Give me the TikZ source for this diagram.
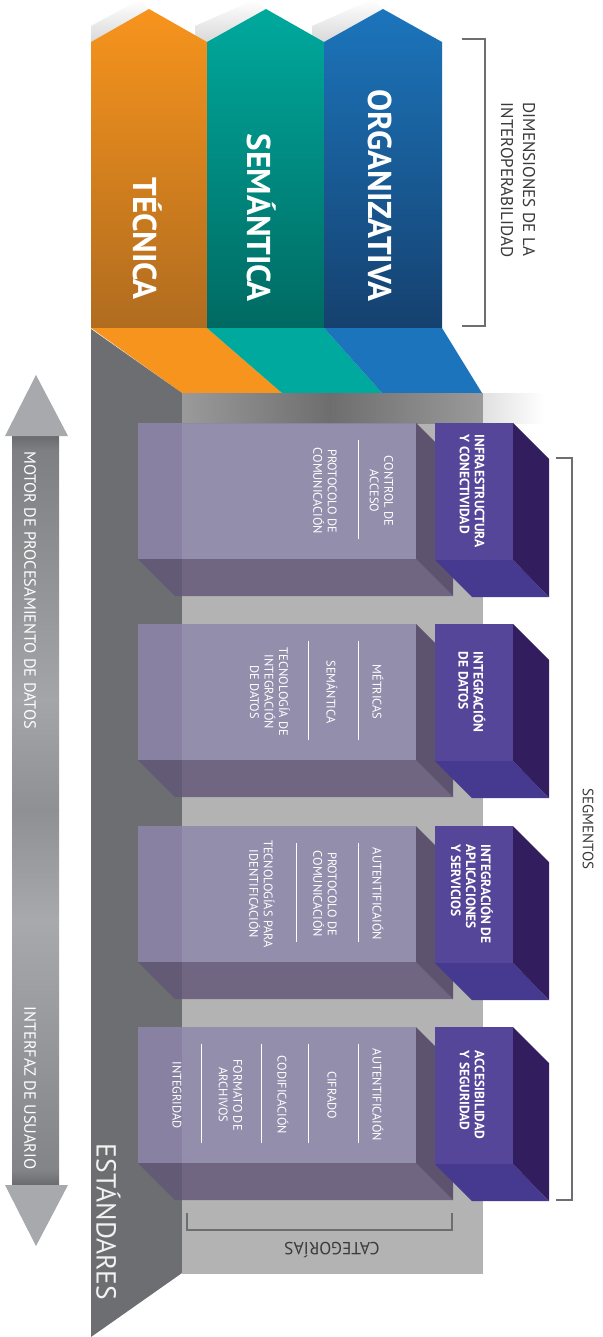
\documentclass[tikz,border=0pt]{standalone}
\usepackage{fontspec}
\setmainfont{PT Sans}
\definecolor{org}{HTML}{F7941D}
\definecolor{orgD}{HTML}{B06C1F}
\definecolor{tealA}{HTML}{00A99D}
\definecolor{tealD}{HTML}{006A62}
\definecolor{bluA}{HTML}{1C75BC}
\definecolor{bluD}{HTML}{15416F}
\definecolor{stdgray}{HTML}{6D6E71}
\definecolor{panel}{HTML}{B3B3B3}
\definecolor{catF}{RGB}{142,134,172}
\definecolor{catR}{RGB}{75,63,96}
\definecolor{catB}{RGB}{98,86,120}
\definecolor{segF}{HTML}{55469A}
\definecolor{segR}{HTML}{321E5E}
\definecolor{segB}{HTML}{463990}
\definecolor{arrowL}{HTML}{A7A9AC}
\definecolor{labelc}{HTML}{3A3A3A}
\definecolor{brkc}{HTML}{6D6E71}
\definecolor{sA}{HTML}{6A6B6E}
\definecolor{sB}{HTML}{7E7F82}
\definecolor{sC}{HTML}{A4A5A8}
\definecolor{sD}{HTML}{8F9093}
\definecolor{sE}{HTML}{A8A9AC}
\definecolor{sF}{HTML}{838487}
\definecolor{bandA}{HTML}{9A9A9A}
\definecolor{bandB}{HTML}{6E6E6E}
\begin{document}
\begin{tikzpicture}[x=1pt,y=-1pt,
  catlab/.style={rotate=-90, align=center, text=white, inner sep=0pt, font=\fontsize{12.4}{14.5}\selectfont},
  seglab/.style={rotate=-90, align=left, text=white, inner sep=0pt, font=\bfseries\fontsize{13.5}{15}\selectfont},
  dimlab/.style={rotate=-90, anchor=east, text=white, inner sep=0pt, font=\bfseries\fontsize{33}{33}\selectfont},
  sidelab/.style={text=labelc, inner sep=0pt},
  arrlab/.style={rotate=-90, text=white, inner sep=0pt, font=\fontsize{16.3}{18}\selectfont},
  sepline/.style={draw=white, line width=0.9pt},
  brk/.style={draw=brkc, line width=1.4pt}
]
\useasboundingbox (0,0) rectangle (602,1337);
\fill[white] (0,0) rectangle (602,1337);

% soft shadows behind the peaks
\shade[top color=white, bottom color=black!15] (91,42) -- (91,26) -- (139,0) -- (149,9) -- cycle;
\shade[top color=white, bottom color=black!15] (195,42) -- (195,26) -- (254,0) -- (266,9) -- (207,42) -- cycle;
\shade[top color=white, bottom color=black!15] (312,42) -- (312,26) -- (371,0) -- (383,9) -- (324,42) -- cycle;

% dimension columns
\shade[top color=org, bottom color=orgD] (91,42) -- (149,9) -- (207,42) -- (207,328) -- (91,328) -- cycle;
\shade[top color=tealA, bottom color=tealD] (207,42) -- (266,9) -- (324,42) -- (324,328) -- (207,328) -- cycle;
\shade[top color=bluA, bottom color=bluD] (324,42) -- (383,9) -- (442,42) -- (442,328) -- (324,328) -- cycle;

% floor
\fill[org] (91,328) -- (207,328) -- (282,393) -- (182,393) -- cycle;
\fill[tealA] (207,328) -- (324,328) -- (382,393) -- (282,393) -- cycle;
\fill[bluA] (324,328) -- (442,328) -- (482,393) -- (382,393) -- cycle;

% standards wall and category panel
\fill[stdgray] (91,329) -- (182,393) -- (182,1273) -- (91,1337) -- cycle;
\fill[panel] (182,393) rectangle (483,1274);
\shade[left color=bandA, right color=bandB] (182,393) rectangle (330,423);
\shade[left color=bandB, right color=bandA] (330,393) rectangle (483,423);
\shade[left color=black!12, right color=white] (483,393) rectangle (545,423);

% boxes
\foreach \t in {423,624,826,1027}{
  \fill[catB, opacity=.82] (138,\t+136) -- (416,\t+136) -- (453,\t+173) -- (175,\t+173) -- cycle;
  \fill[catR, opacity=.82] (416,\t) -- (453,\t+37) -- (453,\t+173) -- (416,\t+136) -- cycle;
  \fill[catF, opacity=.82] (138,\t) rectangle (416,\t+136);
  \fill[segB] (435,\t+137) -- (513,\t+137) -- (549,\t+174) -- (472,\t+174) -- cycle;
  \fill[segR] (513,\t) -- (549,\t+36) -- (549,\t+174) -- (513,\t+137) -- cycle;
  \fill[segF] (435,\t) rectangle (513,\t+137);
  \draw[sepline] (358,\t+17) -- (358,\t+116);
}
% extra separators
\draw[sepline] (308,641) -- (308,740);
\draw[sepline] (296,843) -- (296,942);
\draw[sepline] (308,1044) -- (308,1143);
\draw[sepline] (261,1044) -- (261,1143);
\draw[sepline] (201,1044) -- (201,1143);

% dimension labels
\node[dimlab] (tec) at (148,300) {TÉCNICA};
\node[dimlab] (sem) at (262,302) {SEMÁNTICA};
\node[dimlab] (org) at (380,302) {ORGANIZATIVA};

% segment labels
\node[seglab] (s1) at (472,491) {INFRAESTRUCTURA\\Y CONECTIVIDAD};
\node[seglab] (s2) at (472,692) {INTEGRACIÓN\\DE DATOS};
\node[seglab] (s3) at (472,894) {INTEGRACIÓN DE\\APLICACIONES\\Y SERVICIOS};
\node[seglab] (s4) at (472,1095) {ACCESIBILIDAD\\Y SEGURIDAD};

% category labels
\node[catlab] (c11) at (381.5,491) {CONTROL DE\\ACCESO};
\node[catlab] (c12) at (325,491) {PROTOCOLO DE\\COMUNICACIÓN};
\node[catlab] (c21) at (378,692) {MÉTRICAS};
\node[catlab] (c22) at (332,692) {SEMÁNTICA};
\node[catlab] (c23) at (270,692) {TECNOLOGÍA DE\\INTEGRACIÓN\\DE DATOS};
\node[catlab] (c31) at (378,894) {AUTENTIFICAIÓN};
\node[catlab] (c32) at (325,894) {PROTOCOLO DE\\COMUNICACIÓN};
\node[catlab] (c33) at (262,894) {TECNOLOGÍAS PARA\\IDENTIFICACIÓN};
\node[catlab] (c41) at (378,1095) {AUTENTIFICAIÓN};
\node[catlab] (c42) at (332,1095) {CIFRADO};
\node[catlab] (c43) at (283,1095) {CODIFICACIÓN};
\node[catlab] (c44) at (230.5,1095) {FORMATO DE\\ARCHIVOS};
\node[catlab] (c45) at (177,1095) {INTEGRIDAD};

% standards label
\node[rotate=-90, text=white!90!gray, inner sep=0pt, font=\fontsize{27.5}{27.5}\selectfont] (std) at (108.5,1222) {ESTÁNDARES};

% brackets and side labels
\draw[brk] (462,39) -- (485,39) -- (485,326) -- (462,326);
\node[sidelab, rotate=-90, align=left, font=\fontsize{17}{22}\selectfont] (dim) at (518,180) {DIMENSIONES DE LA\\INTEROPERABILIDAD};
\draw[brk] (556,458) -- (572,458) -- (572,1200) -- (556,1200);
\node[sidelab, rotate=-90, font=\fontsize{15}{15}\selectfont] (seg) at (588,829) {SEGMENTOS};
\draw[brk] (187,1213) -- (187,1230) -- (452,1230) -- (452,1213);
\node[sidelab, rotate=180, font=\fontsize{17.5}{17.5}\selectfont] (cat) at (332,1250) {CATEGORÍAS};

% double arrow
\shade[top color=sA, bottom color=sB] (12,436) rectangle (59,450);
\shade[top color=sB, bottom color=sC] (12,450) rectangle (59,700);
\shade[top color=sC, bottom color=sD] (12,700) rectangle (59,810);
\shade[top color=sD, bottom color=sE] (12,810) rectangle (59,920);
\shade[top color=sE, bottom color=sF] (12,920) rectangle (59,1170);
\shade[top color=sF, bottom color=sA] (12,1170) rectangle (59,1185);
\fill[arrowL] (5,436) -- (36,375) -- (68,436) -- cycle;
\fill[arrowL] (5,1185) -- (36,1246) -- (68,1185) -- cycle;
\node[arrlab] (motor) at (30,590) {MOTOR DE PROCESAMIENTO DE DATOS};
\node[arrlab] (ui) at (30,1088) {INTERFAZ DE USUARIO};
\end{tikzpicture}
\end{document}
